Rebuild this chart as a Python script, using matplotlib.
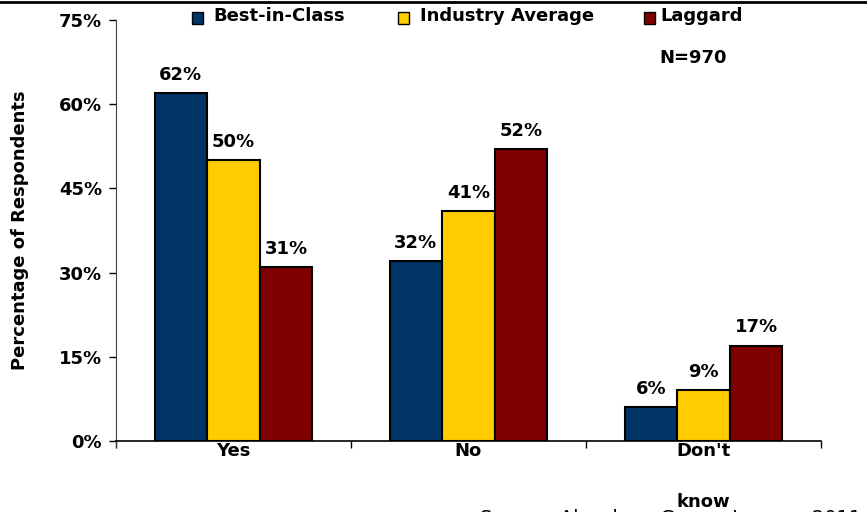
import matplotlib
matplotlib.use("Agg")
import matplotlib.pyplot as plt
from matplotlib.lines import Line2D
from matplotlib.patches import Rectangle
import numpy as np

categories = ["Yes", "No", "Don't\nknow"]
series_names = ["Best-in-Class", "Industry Average", "Laggard"]
best = [62, 32, 6]
industry = [50, 41, 9]
laggard = [31, 52, 17]
yticks = [0, 15, 30, 45, 60, 75]
ytick_labels = ["0%", "15%", "30%", "45%", "60%", "75%"]
colors = ["#003366", "#FFCC00", "#800000"]

plt.rcParams['font.family'] = ['DejaVu Sans']
FS = 13

fig = plt.figure(figsize=(8.67, 5.12), dpi=100)
ax = fig.add_axes([116/867, 1 - 441/512, (821-116)/867, (441-20)/512])

x = np.arange(len(categories))
w = 0.224
for i, (vals, c) in enumerate(zip([best, industry, laggard], colors)):
    pos = x + (i - 1) * w
    ax.bar(pos, vals, width=w, color=c, edgecolor="black", linewidth=1.5, zorder=3)
    for p, v in zip(pos, vals):
        ax.annotate(f"{v}%", (p, v), xytext=(0, 9.5), textcoords="offset points",
                    ha="center", va="baseline", fontsize=FS, fontweight="bold")

ax.set_xlim(-0.5, 2.5)
ax.set_ylim(0, 75)
ax.set_yticks(yticks)
ax.set_yticklabels(ytick_labels, fontsize=FS, fontweight="bold")
ax.set_xticks(x)
ax.set_xticklabels(categories, fontsize=FS, fontweight="bold")
ax.tick_params(axis="x", length=0, pad=1)
ax.set_xticks([-0.5, 0.5, 1.5, 2.5], minor=True)
ax.tick_params(axis="x", which="minor", length=5, width=1, direction="out")
ax.tick_params(axis="y", length=5, width=1, direction="out", pad=5)
ax.xaxis.get_ticklabels()[2].set_linespacing(3.3)
for s in ["top", "right"]:
    ax.spines[s].set_visible(False)
ax.spines["left"].set_color("#404040")
ax.spines["left"].set_bounds(-1.0, 75)
ax.spines["bottom"].set_linewidth(1.2)
ax.set_ylabel("Percentage of Respondents", fontsize=FS, fontweight="bold")
ax.yaxis.set_label_coords(-(116 - 29) / (821 - 116), 0.5)

# legend drawn in figure pixel coordinates
leg_items = [(192, 213), (398, 420), (644, 660)]
for (sx, tx), name, c in zip(leg_items, series_names, colors):
    fig.add_artist(Rectangle((sx/867, 1 - 24/512), 11/867, 12/512, transform=fig.transFigure,
                             facecolor=c, edgecolor="black", linewidth=1))
    fig.text(tx/867, 1 - 16/512, name, fontsize=FS, fontweight="bold", va="center", ha="left")

fig.text(693/867, 1 - 58/512, "N=970", fontsize=FS, fontweight="bold", ha="center", va="center")

fig.add_artist(Line2D([0, 1], [1 - 2/512, 1 - 2/512], transform=fig.transFigure,
                      color="black", linewidth=2))

fig.text(480/867, 1 - 509/512, "Source: Aberdeen Group, January 2011", fontsize=14,
         fontweight="normal", ha="left", va="top")

fig.savefig("out.png", dpi=100)
